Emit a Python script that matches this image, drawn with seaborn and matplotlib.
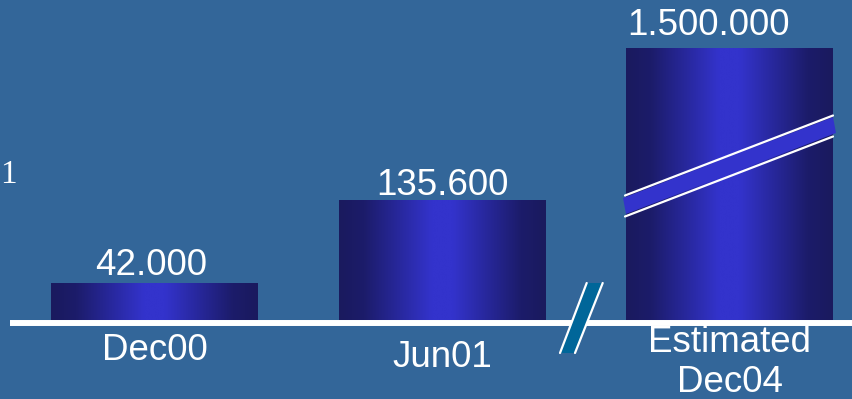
import numpy as np
import pandas as pd
import matplotlib
matplotlib.use("Agg")
import matplotlib.pyplot as plt
from matplotlib.colors import LinearSegmentedColormap
from matplotlib.patches import Polygon
from matplotlib.lines import Line2D
import matplotlib.transforms as mtransforms
import seaborn as sns

# ---- data ----
categories = ["Dec00", "Jun01", "Estimated\nDec04"]
values = [42000, 135600, 1500000]
value_labels = ["42.000", "135.600", "1.500.000"]
axis_break_cap = 307000      # display height of the broken (off-scale) bar

BG = "#336699"
DARK = "#1a1a5e"
BRIGHT = "#3333cc"
TEAL = "#006699"
W, H = 852, 399

sns.set_theme(style="white")
plt.rcParams["font.family"] = ["Liberation Sans", "DejaVu Sans"]

fig = plt.figure(figsize=(W / 100, H / 100), dpi=100, facecolor=BG)
ax = fig.add_axes([0, 0, 1, 1])
ax.set_facecolor(BG)

shown = [min(v, axis_break_cap) for v in values]
df = pd.DataFrame({"cat": categories, "val": shown})
sns.barplot(data=df, x="cat", y="val", ax=ax, width=0.72, color=BRIGHT,
            saturation=1, linewidth=0)

per_px = 1130.0
XLIM = (-154.5 / 287.5, (W - 154.5) / 287.5)
YLIM = (-(H - 320) * per_px, 320 * per_px)
ax.axis("off")

# gradient fill for bars
cmap = LinearSegmentedColormap.from_list(
    "barg", [(0, DARK), (0.12, "#1c1c6a"), (0.45, BRIGHT), (0.55, BRIGHT),
             (0.88, "#1c1c6a"), (1, DARK)])
grad = np.linspace(0, 1, 256).reshape(1, -1)
for p in ax.patches:
    x0, y0 = p.get_x(), p.get_y()
    w, h = p.get_width(), p.get_height()
    im = ax.imshow(grad, cmap=cmap, aspect="auto",
                   extent=[x0, x0 + w, y0, y0 + h], zorder=2)
    im.set_clip_path(p)
    p.set_facecolor("none")
ax.set_xlim(*XLIM)
ax.set_ylim(*YLIM)

# value labels
offsets_px = [(-3, 8), (0, 5), (-21, 13)]
for i, (lab, h) in enumerate(zip(value_labels, shown)):
    dx, dy = offsets_px[i]
    ax.annotate(lab, xy=(i, h), xytext=(dx * 0.72, dy * 0.72),
                textcoords="offset points", ha="center", va="baseline",
                color="white", fontsize=26.5)

# category labels (baseline of last line)
trans = mtransforms.blended_transform_factory(ax.transData, ax.transAxes)
cat_base_px = [360, 367, 392]
for i, c in enumerate(categories):
    ax.text(i, 1 - cat_base_px[i] / H, c, transform=trans, ha="center",
            va="baseline", color="white", fontsize=26.5, linespacing=1.2,
            zorder=5)

def fx(x):
    return x / W

def fy(y):
    return 1 - y / H

# baseline
ax.add_line(Line2D([fx(10), 1], [fy(323), fy(323)], transform=ax.transAxes,
                   color="white", lw=4.3, zorder=4, solid_capstyle="butt"))

# axis break marks near baseline
band = [(586.7, 283), (602.7, 283), (575, 353), (560, 353)]
ax.add_patch(Polygon([(fx(a), fy(b)) for a, b in band], closed=True,
                     transform=ax.transAxes, facecolor=TEAL, edgecolor="none",
                     zorder=6))
for (a1, b1), (a2, b2) in [((586.7, 283), (560, 353)), ((602.7, 283), (575, 353))]:
    ax.add_line(Line2D([fx(a1), fx(a2)], [fy(b1), fy(b2)], transform=ax.transAxes,
                       color="white", lw=1.6, zorder=7))

# break stripe across the off-scale bar
stripe = [(623, 198), (833, 117), (836, 133), (626, 214)]
ax.add_patch(Polygon([(fx(a), fy(b)) for a, b in stripe], closed=True,
                     transform=ax.transAxes, facecolor=BRIGHT, edgecolor="none",
                     zorder=6))
for (a1, b1), (a2, b2) in [((625, 195.5), (833, 115.5)), ((625, 216.5), (833, 136.5))]:
    ax.add_line(Line2D([fx(a1), fx(a2)], [fy(b1), fy(b2)], transform=ax.transAxes,
                       color="white", lw=1.6, zorder=7))

# stray numeral at the left edge
ax.text(fx(0.5), fy(183), "1", transform=ax.transAxes, ha="left",
        va="baseline", color="white", fontsize=24,
        family=["Liberation Serif", "DejaVu Serif"])

fig.savefig("out.png", dpi=100, facecolor=BG)
